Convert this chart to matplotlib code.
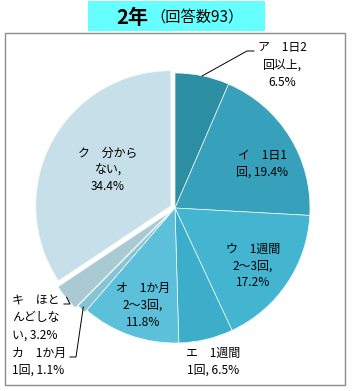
import numpy as np
import matplotlib.pyplot as plt
from matplotlib.patches import Rectangle

plt.rcParams['font.family'] = ['Noto Sans CJK JP', 'DejaVu Sans']

# data
labels = ['ア　1日2\n回以上,\n6.5%', 'イ　1日1\n回, 19.4%', 'ウ　1週間\n2～3回,\n17.2%',
          'エ　1週間\n1回, 6.5%', 'オ　1か月\n2～3回,\n11.8%', 'カ　1か月\n1回, 1.1%',
          'キ　ほと\nんどしな\nい, 3.2%', 'ク　分から\nない,\n34.4%']
values = [6.5, 19.4, 17.2, 6.5, 11.8, 1.1, 3.2, 34.4]
colors = ['#2b8ea3', '#37a1bb', '#43b5d1', '#3caeca', '#5cc0db', '#86c3d3', '#a9c9d3', '#c6dfe8']
explode = [0, 0, 0, 0, 0, 0.02, 0.045, 0.035]

W, H = 353, 391
CX, CY, R = 175, 208, 135

fig = plt.figure(figsize=(W / 100, H / 100), dpi=100)
fig.patch.set_facecolor('white')

# frame and title box
fig.patches.append(Rectangle((5 / W, 1 - 385 / H), 340 / W, 352 / H, transform=fig.transFigure,
                             fill=False, edgecolor='#8c8c8c', linewidth=1.0))
fig.patches.append(Rectangle((88 / W, 1 - 31 / H), 177 / W, 30 / H, transform=fig.transFigure,
                             facecolor='#66ffff', edgecolor='none'))
fig.text(116 / W, 1 - 17 / H, '2年', fontsize=14.5, fontweight='bold', ha='left', va='center')
fig.text(150 / W, 1 - 17 / H, '（回答数93）', fontsize=11, ha='left', va='center')

ax = fig.add_axes([(CX - R) / W, (H - CY - R) / H, 2 * R / W, 2 * R / H])
wedges, _ = ax.pie(values, colors=colors, startangle=90, counterclock=False, explode=explode,
                   radius=1, wedgeprops=dict(edgecolor='#f2f9fb', linewidth=0.5))
for w in wedges:
    w.set_clip_on(False)
ax.set_xlim(-1, 1)
ax.set_ylim(-1, 1)
ax.axis('off')


def px(x, y):
    return (x - CX) / R, (CY - y) / R


def edge(i, r=1.0):
    th = np.deg2rad((wedges[i].theta1 + wedges[i].theta2) / 2)
    return r * np.cos(th), r * np.sin(th)


# label positions (pixels), alignment
pos = [(282, 65, 'center'), (262, 164, 'center'), (253, 266, 'center'), (213, 362, 'center'),
       (143, 305, 'center'), (12, 362, 'left'), (12, 318, 'left'), (108, 170, 'center')]
for lab, (x, y, ha) in zip(labels, pos):
    tx, ty = px(x, y)
    ax.text(tx, ty, lab, fontsize=8.6, ha=ha, va='center', linespacing=1.4)

# leader lines
lc = dict(color='black', linewidth=0.7, clip_on=False)
ex, ey = edge(0)
p1 = px(247, 51)
p2 = px(254, 51)
ax.plot([ex, p1[0], p2[0]], [ey, p1[1], p2[1]], **lc)

ex, ey = edge(6, 1.04)
p1 = px(70, 304)
p2 = px(64, 304)
ax.plot([ex, p1[0], p2[0]], [ey, p1[1], p2[1]], **lc)

ex, ey = edge(5, 1.0)
p1 = px(76, 357)
p2 = px(70, 357)
ax.plot([ex, p1[0], p2[0]], [ey, p1[1], p2[1]], **lc)

fig.savefig('out.png', dpi=100)
